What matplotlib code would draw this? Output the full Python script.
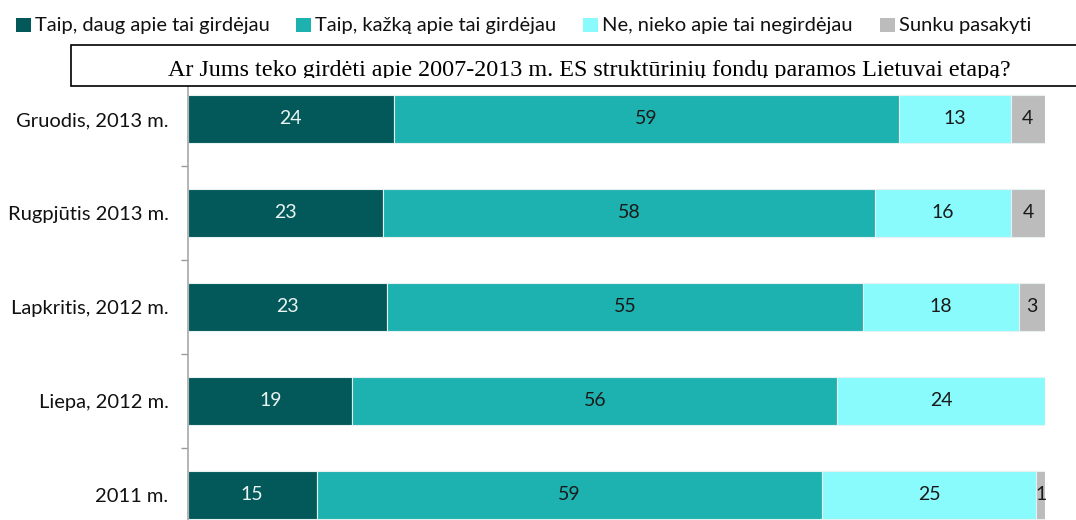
"""Stacked horizontal bars: awareness of EU structural funds support (LT survey)."""

import matplotlib
matplotlib.use("Agg")
import matplotlib.pyplot as plt
from matplotlib.patches import Rectangle

CATEGORIES = ["Gruodis, 2013 m.", "Rugpjūtis 2013 m.", "Lapkritis, 2012 m.",
              "Liepa, 2012 m.", "2011 m."]
SERIES = ["Taip, daug apie tai girdėjau", "Taip, kažką apie tai girdėjau",
          "Ne, nieko apie tai negirdėjau", "Sunku pasakyti"]
DAUG = [24, 23, 23, 19, 15]
KAZKA = [59, 58, 55, 56, 59]
NE = [13, 16, 18, 24, 25]
SUNKU = [4, 4, 3, 0, 1]
TITLE = "Ar Jums teko girdėti apie 2007-2013 m. ES struktūrinių fondų paramos Lietuvai etapą?"

COLORS = ["#03585A", "#1DB1AF", "#89FBFD", "#BCBCBC"]
LABEL_COLORS = ["#EAF4F0", "#1a1a1a", "#1a1a1a", "#1a1a1a"]
FONT = ["Lato", "DejaVu Sans"]

W, H = 1076, 520


def px(x, y):
    """pixel (from top-left) -> figure fraction"""
    return x / W, 1 - y / H


fig = plt.figure(figsize=(W / 100, H / 100), dpi=100)
left, top = px(188, 72)
right, bottom = px(1045, 520)
ax = fig.add_axes([left, bottom, right - left, top - bottom])

series = [DAUG, KAZKA, NE, SUNKU]
totals = [sum(s[i] for s in series) for i in range(len(CATEGORIES))]
ypos = list(range(len(CATEGORIES)))

starts = [0.0] * len(CATEGORIES)
for vals, color, lcolor in zip(series, COLORS, LABEL_COLORS):
    widths = [v / t * 100 for v, t in zip(vals, totals)]
    ax.barh(ypos, widths, left=starts, height=0.51, color=color,
            edgecolor="#e6f2f2", linewidth=0.8)
    for y, s, w, v in zip(ypos, starts, widths, vals):
        if v > 0:
            ax.text(s + w / 2, y, str(v), ha="center", va="center",
                    fontsize=14, color=lcolor, family=FONT)
    starts = [s + w for s, w in zip(starts, widths)]

ax.set_xlim(0, 100)
ax.set_ylim(4.27, -0.5)
ax.set_xticks([])
ax.set_yticks(ypos)
ax.set_yticklabels(CATEGORIES, fontsize=14.5, family=FONT, color="#111111")
ax.tick_params(axis="y", which="major", length=0, pad=14)
ax.set_yticks([i + 0.5 for i in ypos[:-1]], minor=True)
ax.tick_params(axis="y", which="minor", length=5, color="#9a9a9a", width=1)
for side in ("top", "right", "bottom"):
    ax.spines[side].set_visible(False)
ax.spines["left"].set_color("#a8a8a8")
ax.spines["left"].set_linewidth(1.2)

# legend drawn by hand to match the Excel spacing
legend_x = [16, 296, 583, 880]
for x0, label, color in zip(legend_x, SERIES, COLORS):
    fx, fy = px(x0, 32)
    fig.add_artist(Rectangle((fx, fy), 15 / W, 14 / H, transform=fig.transFigure,
                             facecolor=color, edgecolor="none"))
    tx, ty = px(x0 + 19, 25)
    fig.text(tx, ty, label, ha="left", va="center", fontsize=14.5, family=FONT,
             color="#111111")

# title box sitting on top of the plot; its text is cut off at the bottom like the source
bx0, by_top = px(71, 45)
bx1, by_bot = px(1090, 86)
fig.add_artist(Rectangle((bx0, by_bot), bx1 - bx0, by_top - by_bot,
                         transform=fig.transFigure, facecolor="white",
                         edgecolor="black", linewidth=1.2, zorder=5))
cx, cy = px(589, 76)
fig.text(cx, cy, TITLE, ha="center", va="baseline", fontsize=17.4,
         family="Liberation Serif", color="black", zorder=6)
mx0, my_top = px(73, 77.6)
mx1, my_bot = px(1076, 85.3)
fig.add_artist(Rectangle((mx0, my_bot), mx1 - mx0, my_top - my_bot,
                         transform=fig.transFigure, facecolor="white",
                         edgecolor="none", zorder=7))

fig.savefig("out.png", dpi=100)
plt.close(fig)
